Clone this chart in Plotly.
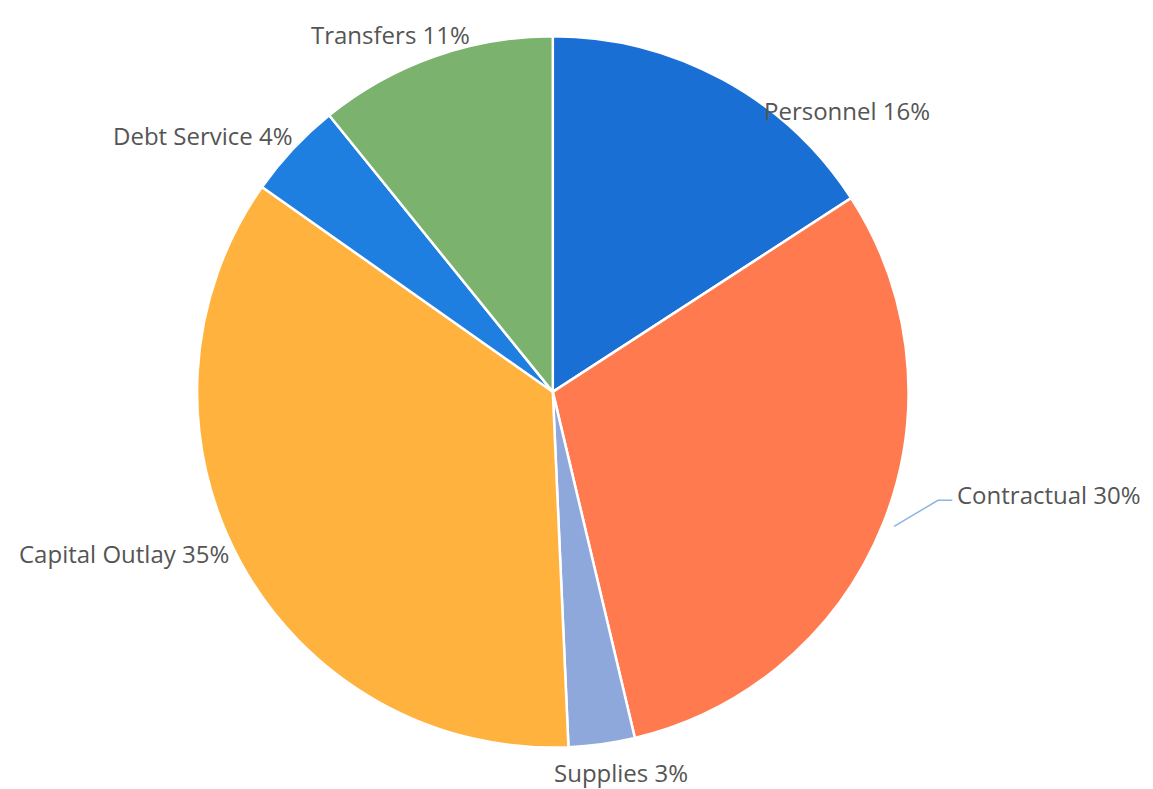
import plotly.graph_objects as go

# budget categories, clockwise from 12 o'clock
categories = ["Personnel", "Contractual", "Supplies", "Capital Outlay", "Debt Service", "Transfers"]
shares = [15.8, 30.4, 3.0, 35.4, 4.4, 10.8]
colors = ["#1A6FD4", "#FF7A4F", "#8FA8DC", "#FFB23E", "#1E7FE0", "#7AB26E"]

# label placement in paper coords (x, y, xanchor, yanchor)
label_pos = {
    "Personnel": (0.728, 0.870, "center", "middle"),
    "Contractual": (0.821, 0.383, "left", "middle"),
    "Supplies": (0.532, 0.007, "center", "bottom"),
    "Capital Outlay": (0.008, 0.309, "left", "middle"),
    "Debt Service": (0.089, 0.839, "left", "middle"),
    "Transfers": (0.261, 0.966, "left", "middle"),
}

total = sum(shares)

pie = go.Pie(
    labels=categories,
    values=shares,
    sort=False,
    direction="clockwise",
    rotation=0,
    marker=dict(colors=colors, line=dict(color="white", width=2.5)),
    textinfo="none",
    hoverinfo="label+percent",
    domain=dict(x=[0.164, 0.781], y=[0.062, 0.965]),
    showlegend=False,
)

annotations = []
for cat, v in zip(categories, shares):
    x, y, xa, ya = label_pos[cat]
    annotations.append(dict(
        x=x, y=y, xref="paper", yref="paper",
        xanchor=xa, yanchor=ya,
        text="%s %d%%" % (cat, round(v / total * 100)),
        showarrow=False,
        font=dict(family="Open Sans, Liberation Sans, sans-serif", size=24, color="#555555"),
    ))

fig = go.Figure(data=[pie])
fig.update_layout(
    width=1153, height=789,
    margin=dict(l=0, r=0, t=0, b=0),
    paper_bgcolor="white",
    annotations=annotations,
    shapes=[
        # leader line for Contractual
        dict(type="path", xref="paper", yref="paper",
             path="M 0.7685,0.343 L 0.8065,0.376 L 0.819,0.376",
             line=dict(color="#8DB4E2", width=1.5)),
    ],
)
fig.write_html("out.html")
